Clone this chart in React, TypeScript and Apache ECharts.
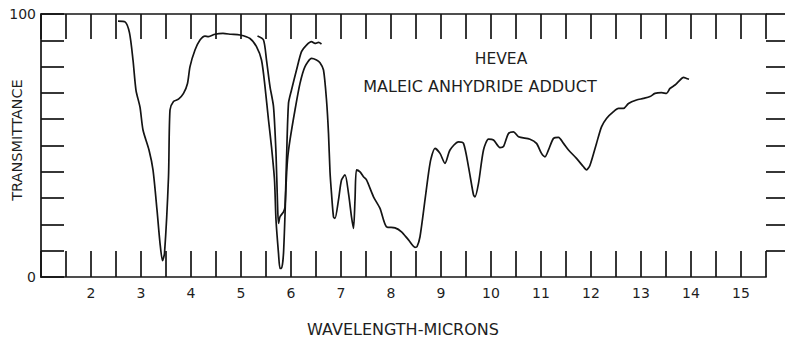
import React, { useEffect, useRef } from 'react';
import * as echarts from 'echarts';

// Main spectrum trace (wavelength in microns, % transmittance)
const wavelengths = [
  2.54, 2.68, 2.77, 2.84, 2.9, 2.98, 3.04, 3.16, 3.24, 3.32, 3.38, 3.43, 3.47,
  3.55, 3.58, 3.65, 3.75, 3.85, 3.93, 3.98, 4.08, 4.18, 4.28, 4.35, 4.48, 4.64,
  4.8, 4.98, 5.18, 5.31, 5.41, 5.48, 5.55, 5.61, 5.67, 5.7, 5.75, 5.78, 5.81,
  5.85, 5.9, 5.93, 5.98, 6.08, 6.18, 6.28, 6.41, 6.51, 6.58, 6.65, 6.71, 6.75,
  6.78, 6.81, 6.85, 6.88, 6.95, 7.01, 7.08, 7.15, 7.21, 7.25, 7.28, 7.31, 7.38,
  7.45, 7.51, 7.65, 7.78, 7.91, 8.08, 8.21, 8.35, 8.48, 8.52, 8.58, 8.68, 8.75,
  8.8, 8.88, 8.98, 9.08, 9.18, 9.35, 9.45, 9.55, 9.65, 9.68, 9.75, 9.85, 9.95,
  10.05, 10.18, 10.25, 10.35, 10.45, 10.55, 10.78, 10.91, 11.01, 11.08, 11.15,
  11.25, 11.35, 11.45, 11.55, 11.71, 11.85, 11.91, 11.98, 12.11, 12.21, 12.31,
  12.45, 12.55, 12.65, 12.75, 12.91, 13.05, 13.18, 13.28, 13.41, 13.51, 13.58,
  13.68, 13.75, 13.85, 13.91, 13.96,
];
const transmittance = [
  97.3, 97.0, 92.8, 82.5, 71, 64.6, 55.9, 48.3, 40.7, 25.5, 12.9, 6.2, 9,
  38, 63.5, 66.7, 67.6, 69.8, 73.6, 80, 86.3, 90.1, 91.6, 91.4, 92.3, 92.6,
  92.3, 92.0, 90.7, 87.6, 82.5, 72.4, 59.7, 49.5, 36.9, 21.7, 9, 3.3, 3.3,
  9, 34.3, 44.5, 52.1, 63.5, 73.6, 80, 83.1, 82.5, 81.5, 78.7, 67.3, 54.6,
  40, 31.8, 22.9, 22.3, 29.3, 36.9, 38.8, 31.8, 22.9, 18.5, 29.3, 40.7, 40.0,
  38.1, 36.9, 30.5, 26.1, 19.1, 18.7, 17.2, 14.1, 11.3, 11.5, 15.3, 29.3, 39.4,
  45, 48.9, 47, 43.2, 48.3, 51.4, 50.8, 41.9, 31.2, 30.5, 35.6, 48.3, 52.4,
  52.1, 49.2, 49.6, 54.6, 55.2, 53.3, 52.4, 50.8, 47, 45.7, 48.3,
  52.7, 53.1, 50.8, 48.3, 45.1, 41.9, 40.7, 42.5, 50.8, 57.1, 60.3,
  62.9, 64.1, 64.1, 66, 67.3, 67.9, 68.6, 69.8, 70.1, 69.8, 71.7,
  73, 74.3, 75.9, 75.5, 75.2,
];

// Second (overlaid) trace in the carbonyl region
const overlayWavelengths = [
  5.33, 5.45, 5.51, 5.58, 5.65, 5.7, 5.73, 5.75, 5.78, 5.85, 5.88, 5.91, 5.95,
  6.01, 6.11, 6.21, 6.31, 6.41, 6.48, 6.55, 6.61,
];
const overlayTransmittance = [
  91.6, 90.1, 82.5, 72.4, 64.8, 47, 28, 20.4, 22.9, 24.8, 26.7, 44.5, 66,
  71.1, 78.7, 85.7, 88.2, 89.5, 88.8, 89.2, 88.6,
];

const xTickLabels = ['2', '3', '4', '5', '6', '7', '8', '9', '10', '11', '12', '13', '14', '15'];
const yTickLabels = ['0', '100'];
const rightTickValues = [10, 20, 30, 40, 50, 60, 70, 80, 90, 100];

const title1 = 'HEVEA';
const title2 = 'MALEIC ANHYDRIDE ADDUCT';
const xName = 'WAVELENGTH-MICRONS';
const yName = 'TRANSMITTANCE';

export default function App() {
  const ref = useRef<HTMLDivElement>(null);
  useEffect(() => {
    if (!ref.current) return;
    const chart = echarts.init(ref.current, null, { renderer: 'svg' });
    const font = 'DejaVu Sans';
    const ink = '#141414';
    const textInk = '#1e1e1e';
    const lineStyle = { color: ink, width: 1.7 };
    const pair = (xs: number[], ys: number[]) => xs.map((x, i) => [x, ys[i]]);
    const textStyle = (size: number) => ({
      fill: textInk,
      font: `${size}px "${font}"`,
      textAlign: 'center',
      textVerticalAlign: 'middle',
      align: 'center',
      verticalAlign: 'middle',
    });
    chart.setOption({
      animation: false,
      grid: { left: 41, right: 19, top: 14, bottom: 62 },
      xAxis: [
        {
          type: 'value',
          position: 'bottom',
          min: 1,
          max: 15.5,
          interval: 0.5,
          axisLine: { show: true, onZero: false, lineStyle },
          axisTick: { show: true, inside: true, length: 26, lineStyle },
          axisLabel: {
            show: true,
            margin: 9,
            fontSize: 14,
            fontFamily: font,
            color: textInk,
            formatter: (v: number) => (xTickLabels.includes(String(v)) ? String(v) : ''),
          },
          splitLine: { show: false },
        },
        {
          type: 'value',
          position: 'top',
          min: 1,
          max: 15.5,
          interval: 0.5,
          axisLine: { show: true, onZero: false, lineStyle },
          axisTick: { show: true, inside: true, length: 25, lineStyle },
          axisLabel: { show: false },
          splitLine: { show: false },
        },
      ],
      yAxis: [
        {
          type: 'value',
          position: 'left',
          min: 0,
          max: 100,
          interval: 10,
          axisLine: { show: true, onZero: false, lineStyle },
          axisTick: { show: true, inside: true, length: 23, lineStyle },
          axisLabel: {
            show: true,
            margin: 5,
            fontSize: 14,
            fontFamily: font,
            color: textInk,
            padding: [6, 0, 0, 0],
            formatter: (v: number) => (yTickLabels.includes(String(v)) ? String(v) : ''),
          },
          splitLine: { show: false },
        },
        {
          type: 'value',
          position: 'right',
          min: 0,
          max: 100,
          interval: 10,
          axisLine: { show: false, onZero: false },
          axisTick: {
            show: true,
            inside: false,
            length: 19,
            lineStyle,
            customValues: rightTickValues,
          },
          axisLabel: { show: false },
          splitLine: { show: false },
        },
      ],
      graphic: [
        {
          type: 'text',
          x: 17,
          y: 140,
          rotation: Math.PI / 2,
          style: { text: yName, ...textStyle(14.5) },
        },
        {
          type: 'text',
          x: 403,
          y: 329,
          style: { text: xName, ...textStyle(16) },
        },
        {
          type: 'text',
          x: 501,
          y: 59,
          style: { text: title1, ...textStyle(15.5) },
        },
        {
          type: 'text',
          x: 480,
          y: 86,
          style: { text: title2, ...textStyle(16) },
        },
      ],
      series: [
        {
          type: 'line',
          xAxisIndex: 0,
          yAxisIndex: 0,
          data: pair(wavelengths, transmittance),
          showSymbol: false,
          smooth: 0.25,
          lineStyle: { color: ink, width: 1.7 },
        },
        {
          type: 'line',
          xAxisIndex: 0,
          yAxisIndex: 0,
          data: pair(overlayWavelengths, overlayTransmittance),
          showSymbol: false,
          smooth: 0.25,
          lineStyle: { color: ink, width: 1.7 },
        },
      ],
    });
    return () => chart.dispose();
  }, []);
  return (
    <div
      ref={ref}
      style={{ position: 'fixed', left: 0, top: 0, width: 785, height: 339, background: '#fff' }}
    />
  );
}
